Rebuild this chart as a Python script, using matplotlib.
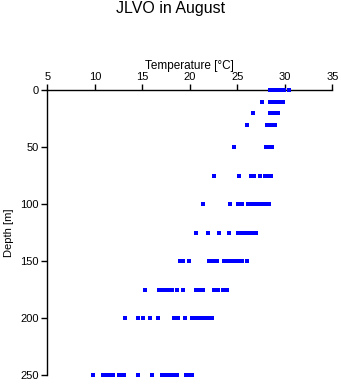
import matplotlib
matplotlib.use("Agg")
import matplotlib.pyplot as plt

# Temperature profile samples, one list per depth level
depth_levels = [0, 10, 20, 30, 50, 75, 100, 125, 150, 175, 200, 250]
temp_d0 = [28.4, 28.6, 28.8, 29.0, 29.2, 29.4, 29.6, 29.8, 29.9, 30.4]
temp_d10 = [27.6, 28.4, 28.6, 28.8, 29.0, 29.2, 29.4, 29.6, 29.8]
temp_d20 = [26.7, 28.4, 28.6, 28.8, 29.0, 29.3]
temp_d30 = [26.0, 28.1, 28.3, 28.5, 28.7, 29.0]
temp_d50 = [24.6, 28.0, 28.2, 28.4, 28.7]
temp_d75 = [22.5, 25.2, 26.4, 26.8, 27.4, 27.9, 28.1, 28.3, 28.5]
temp_d100 = [21.4, 24.2, 25.1, 25.5, 26.1, 26.4, 26.7, 27.0, 27.3, 27.6, 27.9, 28.1, 28.3]
temp_d125 = [20.6, 21.9, 23.1, 24.1, 25.1, 25.4, 25.7, 26.0, 26.3, 26.6, 27.0]
temp_d150 = [19.0, 19.3, 19.9, 22.0, 22.3, 22.6, 22.9, 23.6, 23.9, 24.2, 24.4,
             24.6, 24.9, 25.2, 25.5, 26.0]
temp_d175 = [15.3, 16.8, 17.1, 17.4, 17.7, 18.1, 18.7, 19.3, 20.7, 21.0, 21.4,
             22.5, 23.0, 23.5, 23.7, 23.9]
temp_d200 = [13.2, 14.6, 15.1, 15.8, 16.7, 18.3, 18.8, 19.5, 20.2, 20.5, 20.8,
             21.1, 21.4, 21.7, 22.0, 22.3]
temp_d250 = [9.8, 10.9, 11.2, 11.6, 11.9, 12.6, 12.9, 13.1, 14.6, 16.0, 17.1,
             17.4, 17.7, 18.0, 18.3, 18.6, 19.6, 19.9, 20.2]

temps_by_level = [temp_d0, temp_d10, temp_d20, temp_d30, temp_d50, temp_d75,
                  temp_d100, temp_d125, temp_d150, temp_d175, temp_d200, temp_d250]

x_ticks = [5, 10, 15, 20, 25, 30, 35]
y_ticks = [0, 50, 100, 150, 200, 250]

plt.rcParams['font.family'] = ['Liberation Sans', 'DejaVu Sans']

fig = plt.figure(figsize=(3.41, 3.84), dpi=100)
ax = fig.add_axes([0.1387, 0.0227, 0.8358, 0.7421])

for d, temps in zip(depth_levels, temps_by_level):
    ax.plot(temps, [d] * len(temps), linestyle='none', marker='s',
            markersize=2.4, markeredgewidth=0, color='#0000ff',
            clip_on=False, zorder=3)

ax.set_xlim(5, 35)
ax.set_ylim(250, 0)
ax.set_xticks(x_ticks)
ax.set_yticks(y_ticks)
ax.xaxis.set_ticks_position('top')
ax.xaxis.set_label_position('top')
ax.tick_params(direction='out', length=4, width=1, labelsize=8, pad=2, color='black')
for side in ('right', 'bottom'):
    ax.spines[side].set_visible(False)
for side in ('left', 'top'):
    ax.spines[side].set_linewidth(1)

ax.set_xlabel('Temperature [°C]', fontsize=8.5, labelpad=2)
ax.set_ylabel('Depth [m]', fontsize=8, labelpad=5)
fig.text(0.5, 0.977, 'JLVO in August', ha='center', va='center', fontsize=11.5)

fig.savefig('out.png', dpi=100)
